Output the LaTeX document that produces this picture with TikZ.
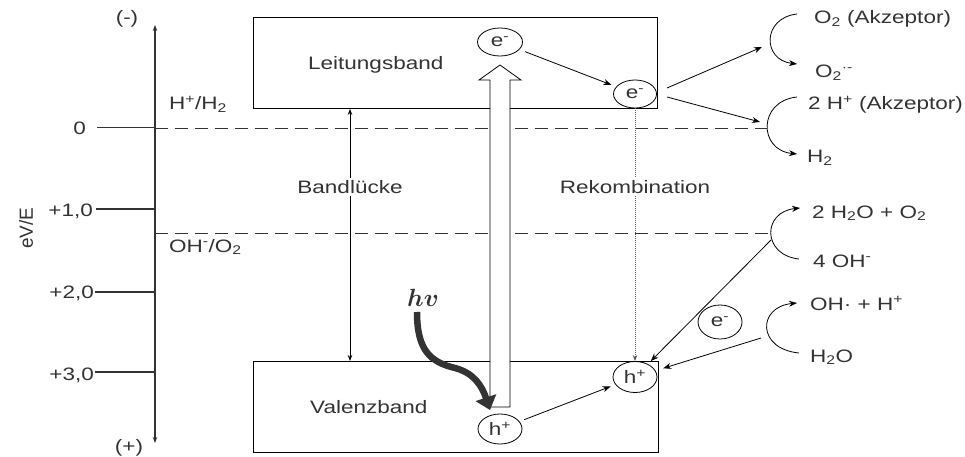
\documentclass[tikz,border=0pt]{standalone}
\usepackage{bm}
\usepackage{fontspec}
\setmainfont[FakeStretch=1.25]{Liberation Sans}
\newfontfamily\plainsans{Liberation Sans}
\usetikzlibrary{arrows.meta,shapes.geometric}
\definecolor{txt}{HTML}{333333}
\begin{document}
\begin{tikzpicture}[x=1pt,y=-1pt,
  lbl/.style={inner sep=0pt, text=txt, font=\fontsize{18}{20}\selectfont},
  band/.style={draw=black, line width=0.9pt, inner sep=0pt},
  part/.style={draw=black, ellipse, inner sep=0pt, minimum width=44pt, minimum height=30pt,
               text=txt, font=\fontsize{18}{20}\selectfont, line width=0.8pt},
  arr/.style={-{Stealth[length=8pt,width=6pt]}, line width=0.8pt},
  sarr/.style={-{Stealth[length=6pt,width=4.5pt]}, line width=0.8pt},
  lvl/.style={dash pattern=on 13pt off 7pt, line width=0.8pt, draw=black!80},
  tickline/.style={line width=1.4pt, draw=txt},
]
\useasboundingbox (0,0) rectangle (965,457);

% axis
\coordinate (atop) at (155,25);
\coordinate (abot) at (155,443);
\draw[tickline, line width=1.2pt, {Stealth[length=6pt,width=4.5pt]}-{Stealth[length=6pt,width=4.5pt]}] (atop) -- (abot);
\node[lbl, anchor=base] (minus) at (127,24) {(-)};
\node[lbl, anchor=base] (plus) at (129,452) {(+)};
\node[inner sep=0pt, text=txt, font=\plainsans\fontsize{19}{21}\selectfont, rotate=90] (ev) at (26,228) {eV/E};

\coordinate (t0a) at (97,128);   \coordinate (t0b) at (155,128);
\coordinate (t1a) at (96,209);   \coordinate (t1b) at (155,209);
\coordinate (t2a) at (95,292);   \coordinate (t2b) at (155,292);
\coordinate (t3a) at (95,372);   \coordinate (t3b) at (155,372);
\draw[tickline, line width=1pt] (t0a) -- (t0b);
\draw[tickline] (t1a) -- (t1b);
\draw[tickline] (t2a) -- (t2b);
\draw[tickline] (t3a) -- (t3b);
\node[lbl, anchor=base east] (l0) at (86,135) {0};
\node[lbl, anchor=base east] (l1) at (93,216) {+1,0};
\node[lbl, anchor=base east] (l2) at (94,298) {+2,0};
\node[lbl, anchor=base east] (l3) at (94,380) {+3,0};

% levels
\coordinate (d1b) at (767,128);
\coordinate (d2b) at (771,233);
\draw[lvl] (t0b) -- (d1b);
\coordinate (d2a) at (155,233);
\draw[lvl] (d2a) -- (d2b);
\node[lbl, anchor=base west] (hh) at (169,110) {H\textsuperscript{+}/H\textsubscript{2}};
\node[lbl, anchor=base west] (oo) at (169,252) {OH\textsuperscript{-}/O\textsubscript{2}};

% bands
\node[band, anchor=north west, minimum width=404pt, minimum height=91pt] (lb) at (253,17) {};
\node[band, anchor=north west, minimum width=405pt, minimum height=91pt] (vb) at (253,361) {};
\node[lbl, anchor=base west] (lbt) at (308,70) {Leitungsband};
\node[lbl, anchor=base west] (vbt) at (310,413) {Valenzband};

% band gap
\node[lbl, fill=white, inner sep=2pt] (bl) at (350,187) {Bandlücke};
\draw[sarr] (bl.north) -- (bl.north |- lb.south);
\draw[sarr] (bl.south) -- (bl.south |- vb.north);

% hollow excitation arrow
\draw[fill=white, line width=0.8pt] (490,407) -- (490,80) -- (479,80) -- (500,65) -- (521,80) -- (510,80) -- (510,407) -- cycle;

% carriers
\node[part, minimum width=45pt, minimum height=28pt] (e1) at (500,42) {e\textsuperscript{-}};
\node[part, minimum width=43pt, minimum height=28pt] (e2) at (635,94) {e\textsuperscript{-}};
\node[part, minimum height=30pt] (h1) at (500,429) {h\textsuperscript{+}};
\node[part, minimum height=31pt] (h2) at (635,377) {h\textsuperscript{+}};
\node[part, minimum height=34pt] (e3) at (720,322) {e\textsuperscript{-}};

\draw[arr, shorten <=6pt, shorten >=5pt] (e1) -- (e2);
\draw[arr, shorten <=5pt, shorten >=5pt] (h1) -- (h2);

% recombination
\draw[dash pattern=on 1pt off 1pt, line width=0.9pt, draw=black!65, -{Stealth[length=6pt,width=4.5pt]}] (e2.south) -- (h2.north);
\node[lbl, fill=white, inner sep=2pt] (rek) at (635,187) {Rekombination};

% photon
\node[inner sep=0pt, text=txt, font=\fontsize{24}{26}\selectfont] (photon) at (423,298) {$\bm{hv}$};
\coordinate (hvs) at (417,312);
\coordinate (hve) at (490,410);
\draw[line width=6.5pt, draw=txt, -{Triangle[length=13pt,width=21pt]}]
  (hvs) .. controls (417,350) and (430,362) .. (455,368) .. controls (474,373) and (482,386) .. (hve);

% electron transfer to acceptors
\coordinate (s1) at (667,88);  \coordinate (f1) at (762,47);
\coordinate (s2) at (667,97);  \coordinate (f2) at (760,122);
\draw[arr] (s1) -- (f1);
\draw[arr] (s2) -- (f2);

\coordinate (a1s) at (797,14);  \coordinate (a1e) at (797,64);
\coordinate (a2s) at (797,97);  \coordinate (a2e) at (797,154);
\draw[arr] (a1s) .. controls (762,18) and (762,60) .. (a1e);
\draw[arr] (a2s) .. controls (758,101) and (758,150) .. (a2e);

\node[lbl, anchor=base west] (o2a) at (814,24) {O\textsubscript{2} (Akzeptor)};
\node[lbl, anchor=base west] (o2r) at (815,78) {O\textsubscript{2}\textsuperscript{·-}};
\node[lbl, anchor=base west] (hpa) at (808,110) {2 H\textsuperscript{+} (Akzeptor)};
\node[lbl, anchor=base west] (h2t) at (807,163) {H\textsubscript{2}};

% hole oxidations
\coordinate (b1s) at (799,259); \coordinate (b1e) at (800,208);
\coordinate (b2s) at (799,353); \coordinate (b2e) at (797,303);
\draw[arr] (b1s) .. controls (762,255) and (762,212) .. (b1e);
\draw[arr] (b2s) .. controls (757,349) and (757,307) .. (b2e);

\coordinate (r1) at (771,240);
\coordinate (r2) at (761,338);
\draw[arr, shorten >=4pt] (r1) -- (h2);
\draw[arr, shorten >=8pt] (r2) -- (h2);

\node[lbl, anchor=base west] (w1) at (812,218) {2 H\textsubscript{2}O + O\textsubscript{2}};
\node[lbl, anchor=base west] (w2) at (813,267) {4 OH\textsuperscript{-}};
\node[lbl, anchor=base west] (w3) at (810,310) {OH· + H\textsuperscript{+}};
\node[lbl, anchor=base west] (w4) at (810,362) {H\textsubscript{2}O};
\end{tikzpicture}
\end{document}
